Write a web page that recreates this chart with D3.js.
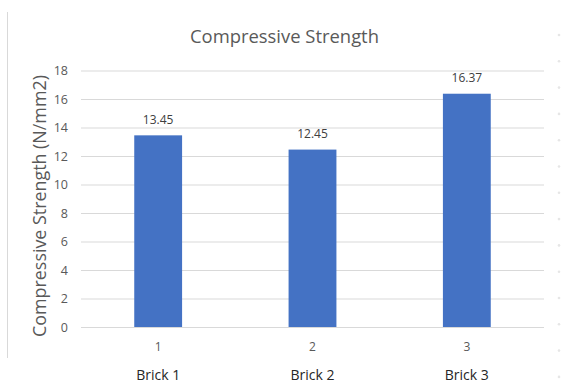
<!DOCTYPE html>
<html>
<head>
<meta charset="utf-8">
<script src="https://cdn.jsdelivr.net/npm/d3@7"></script>
<style>
  body { margin: 0; background: #fff; }
  svg { display: block; font-family: "Open Sans", "Liberation Sans", sans-serif; }
</style>
</head>
<body>
<svg id="chart" width="563" height="384"></svg>
<script>
// Compressive strength of three brick samples (N/mm2)
const categories = ["1", "2", "3"];
const groupLabels = ["Brick 1", "Brick 2", "Brick 3"];
const strength = [13.45, 12.45, 16.37];
const yTicks = [0, 2, 4, 6, 8, 10, 12, 14, 16, 18];
const chartTitle = "Compressive Strength";
const yTitle = "Compressive Strength (N/mm2)";

const svg = d3.select("#chart");
const plot = { left: 81, right: 544, top: 70.5, bottom: 327 };

const x = d3.scaleBand()
  .domain(categories)
  .range([plot.left, plot.right])
  .paddingInner(0.69)
  .paddingOuter(0.345);

const y = d3.scaleLinear()
  .domain([0, 18])
  .range([plot.bottom, plot.top]);

// scale a text element's font size so it spans a given width
function fitWidth(sel, target) {
  const w = sel.node().getComputedTextLength();
  const fs = parseFloat(sel.attr("font-size"));
  sel.attr("font-size", (fs * target / w).toFixed(2));
}

// frame edge on the left
svg.append("line")
  .attr("x1", 7.5).attr("x2", 7.5)
  .attr("y1", 12).attr("y2", 358)
  .attr("stroke", "#d9d9d9").attr("stroke-width", 1);

// faint dotted edge on the right
svg.append("g").selectAll("circle")
  .data(d3.range(35, 380, 26.3))
  .join("circle")
  .attr("cx", 559).attr("cy", d => d).attr("r", 1.3)
  .attr("fill", "#e6e6e6");

// y axis with gridlines
const yAxis = svg.append("g")
  .attr("transform", `translate(${plot.left},0)`)
  .call(d3.axisLeft(y).tickValues(yTicks)
    .tickSize(-(plot.right - plot.left)).tickPadding(13)
    .tickFormat(d3.format("d")));
yAxis.select(".domain").remove();
yAxis.selectAll(".tick line").attr("stroke", "#d9d9d9").attr("stroke-width", 1);
yAxis.selectAll(".tick text")
  .attr("fill", "#595959")
  .attr("font-size", 12.5)
  .attr("font-family", "Open Sans, sans-serif");

// bars
svg.append("g").selectAll("rect")
  .data(strength)
  .join("rect")
  .attr("x", (d, i) => x(categories[i]))
  .attr("width", x.bandwidth())
  .attr("y", d => y(d))
  .attr("height", d => y(0) - y(d))
  .attr("fill", "#4472c4");

// value labels
svg.append("g").selectAll("text")
  .data(strength)
  .join("text")
  .attr("x", (d, i) => x(categories[i]) + x.bandwidth() / 2)
  .attr("y", d => y(d) - 11.5)
  .attr("text-anchor", "middle")
  .attr("font-size", 12)
  .attr("fill", "#404040")
  .text(d => d.toFixed(2));

// x axis category numbers
const xAxis = svg.append("g")
  .attr("transform", `translate(0,${plot.bottom})`)
  .call(d3.axisBottom(x).tickSize(0).tickPadding(15));
xAxis.select(".domain").remove();
xAxis.selectAll(".tick text")
  .attr("fill", "#595959")
  .attr("font-size", 12)
  .attr("font-family", "Open Sans, sans-serif");

// brick names under the axis
svg.append("g").selectAll("text")
  .data(groupLabels)
  .join("text")
  .attr("x", (d, i) => x(categories[i]) + x.bandwidth() / 2)
  .attr("y", 380)
  .attr("text-anchor", "middle")
  .attr("font-size", 14)
  .attr("fill", "#262626")
  .text(d => d);

// chart title
const title = svg.append("text")
  .attr("x", 284.5).attr("y", 43)
  .attr("text-anchor", "middle")
  .attr("font-size", 18)
  .attr("fill", "#595959")
  .text(chartTitle);
fitWidth(title, 189);

// y axis title
const yt = svg.append("text")
  .attr("transform", "translate(46,206) rotate(-90)")
  .attr("text-anchor", "middle")
  .attr("font-size", 16)
  .attr("fill", "#595959")
  .text(yTitle);
fitWidth(yt, 262);
</script>
</body>
</html>
